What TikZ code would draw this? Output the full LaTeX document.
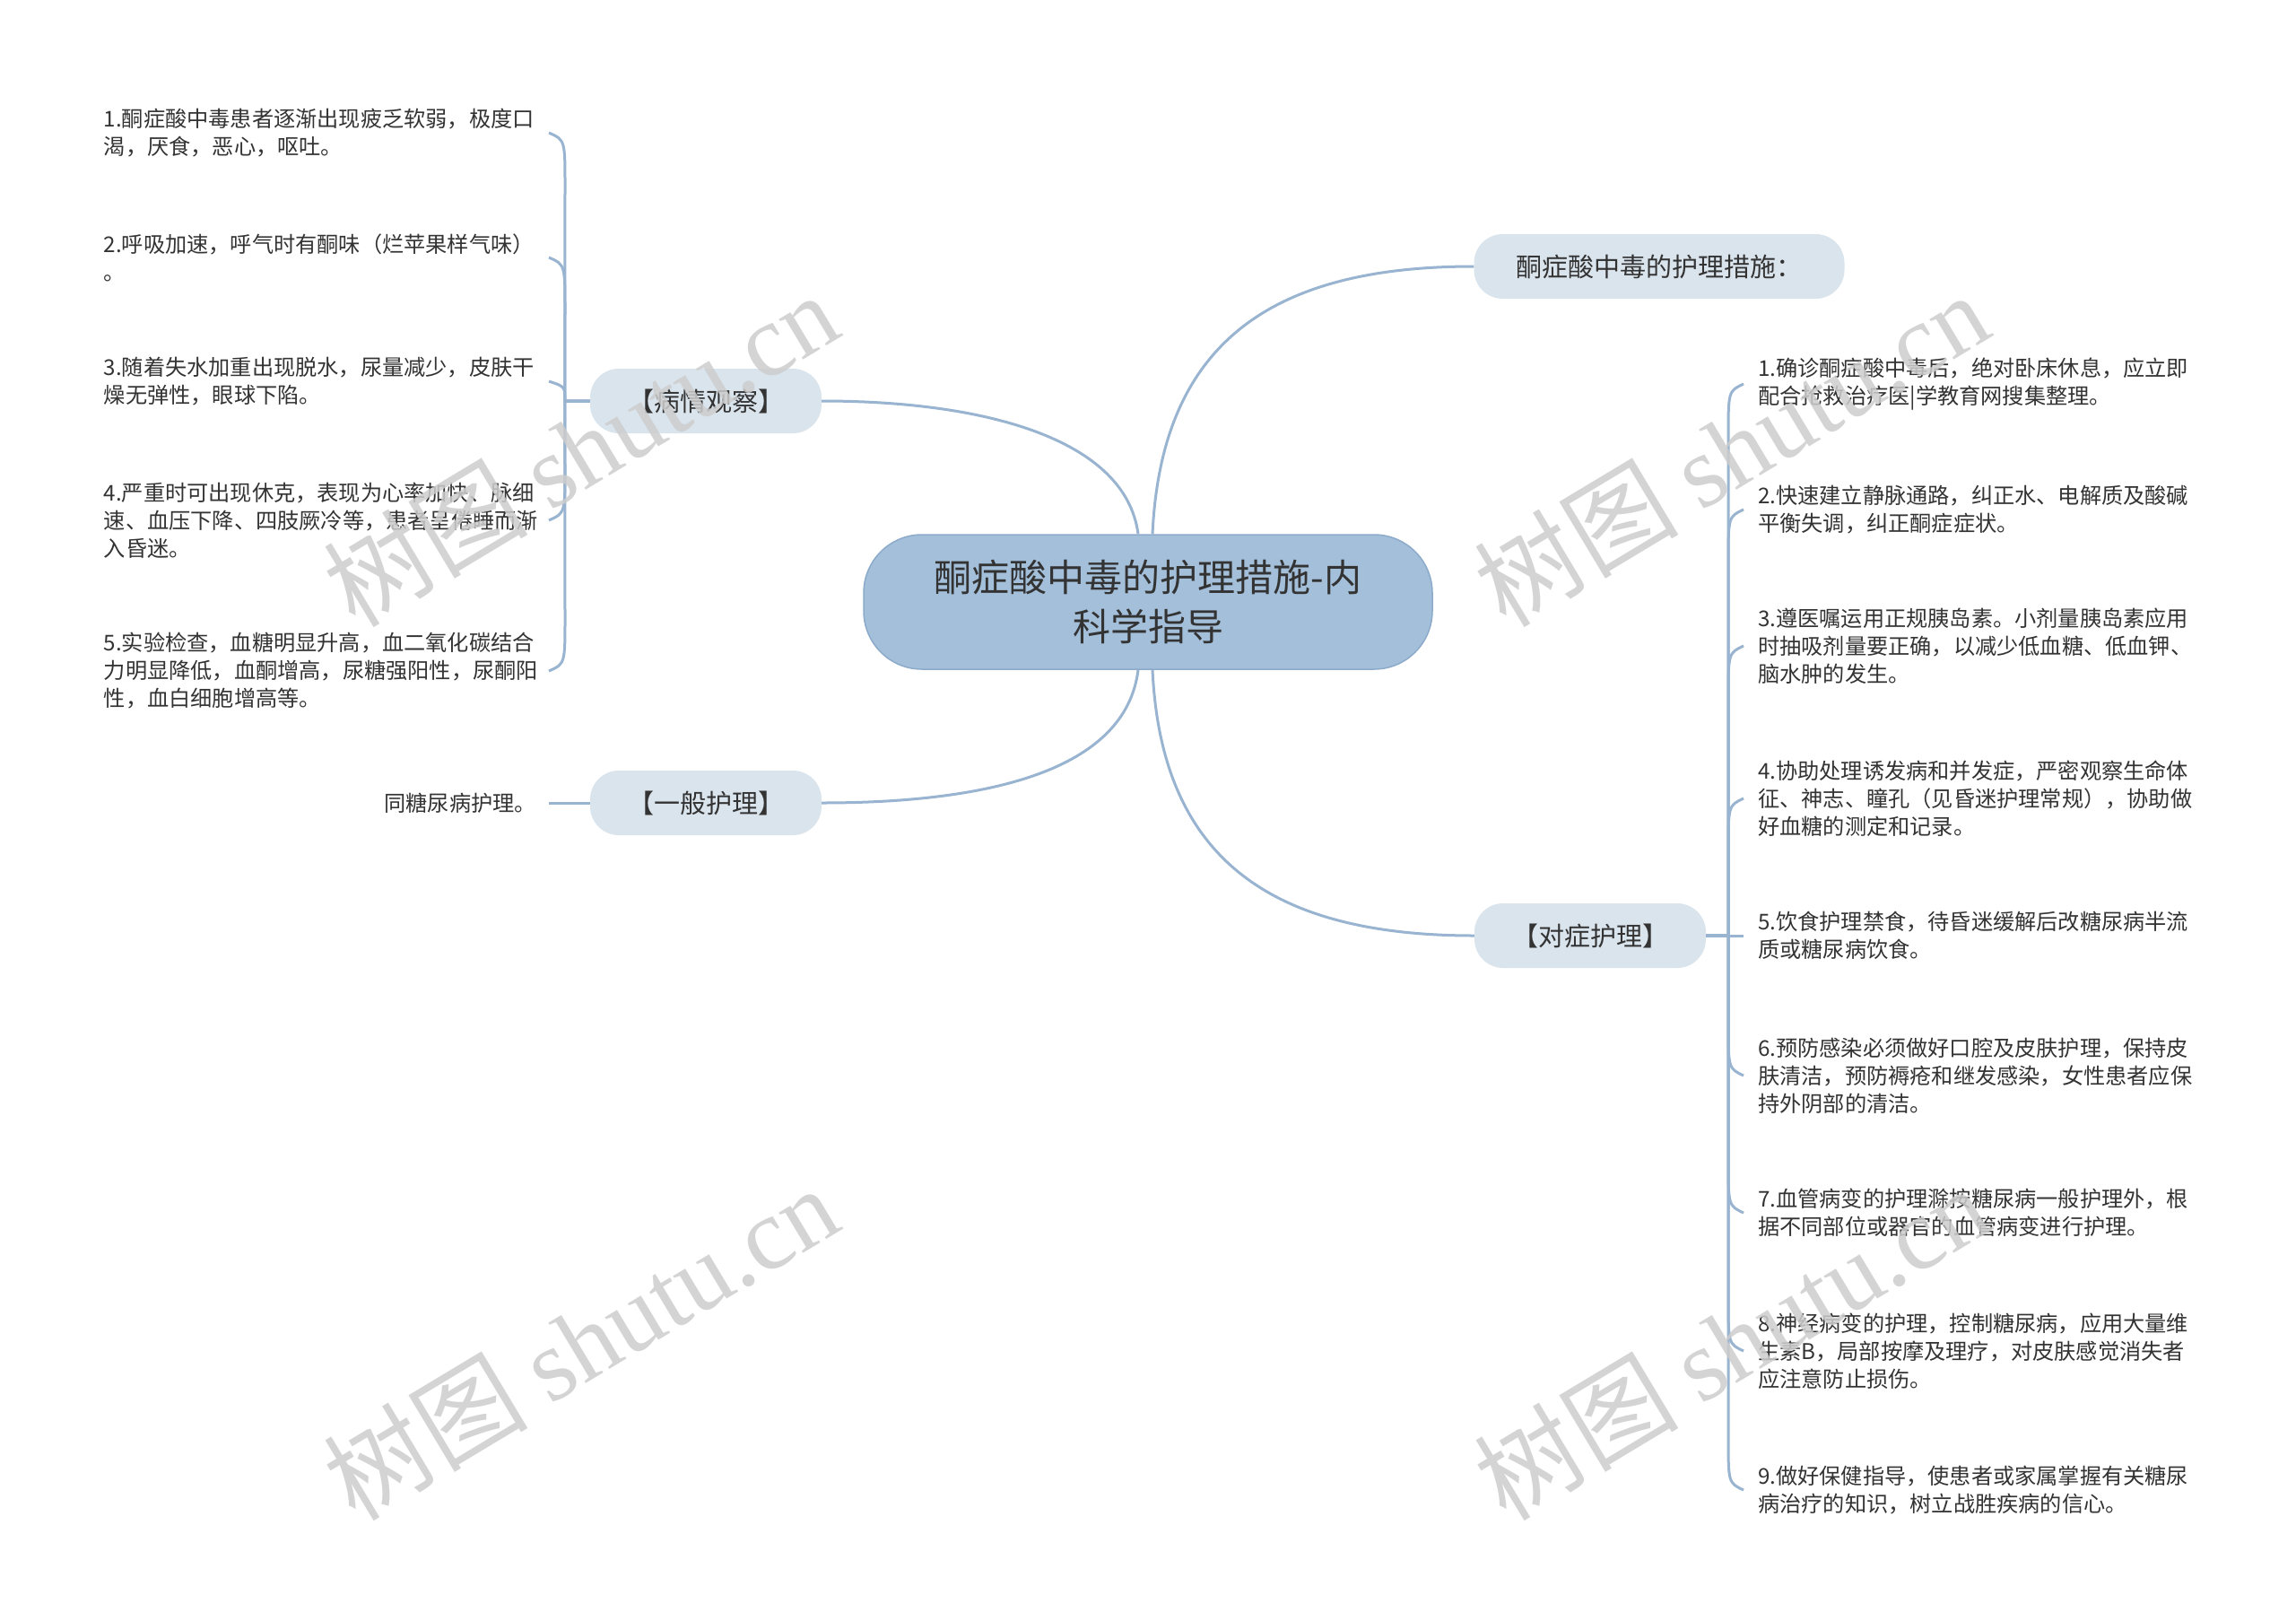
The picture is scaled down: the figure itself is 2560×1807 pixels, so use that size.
\documentclass[tikz,border=0pt]{standalone}
\usepackage{fontspec}
\setmainfont{Noto Sans CJK SC}
\newfontfamily\wmlatin{Liberation Serif}
\definecolor{conncol}{RGB}{152,180,208}
\definecolor{rootfill}{RGB}{163,191,218}
\definecolor{rootdraw}{RGB}{140,170,202}
\definecolor{subfill}{RGB}{218,228,237}
\definecolor{txt}{RGB}{51,51,51}
\definecolor{wmcol}{RGB}{205,205,205}
\begin{document}
\begin{tikzpicture}[x=1pt,y=-1pt,
  conn/.style={draw=conncol, line width=3pt},
  rootbox/.style={fill=rootfill, draw=rootdraw, line width=1.5pt, rounded corners=65pt, minimum width=634pt, minimum height=150pt, align=center, text=txt, font=\fontsize{42pt}{55pt}\selectfont, inner sep=0pt},
  subbox/.style={fill=subfill, rounded corners=32pt, minimum height=72pt, text=txt, font=\fontsize{29pt}{36pt}\selectfont, inner sep=0pt},
  leafL/.style={anchor=east, text width=482pt, align=left, text=txt, font=\fontsize{24.2pt}{31pt}\selectfont, inner sep=0pt},
  leafR/.style={anchor=west, text width=500pt, align=left, text=txt, font=\fontsize{24.2pt}{31pt}\selectfont, inner sep=0pt},
  leafS/.style={anchor=east, text=txt, font=\fontsize{24.2pt}{31pt}\selectfont, inner sep=0pt},
  wm/.style={text=wmcol, text opacity=0.85, rotate=31, inner sep=0pt, font=\fontsize{114pt}{114pt}\selectfont}
]
\fill[white] (0,0) rectangle (2560,1807);
\useasboundingbox (0,0) rectangle (2560,1807);

% main nodes
\node[rootbox] (root) at (1280,671) {酮症酸中毒的护理措施-内\\科学指导};
\node[subbox, minimum width=413pt] (n1) at (1850,297) {酮症酸中毒的护理措施：};
\node[subbox, minimum width=258pt] (bq) at (787,447) {【病情观察】};
\node[subbox, minimum width=258pt] (yb) at (787,895) {【一般护理】};
\node[subbox, minimum width=258pt] (dz) at (1773,1043) {【对症护理】};

% left leaves
\node[leafL] (l1) at (598,148) {1.酮症酸中毒患者逐渐出现疲乏软弱，极度口\\渴，厌食，恶心，呕吐。};
\node[leafL] (l2) at (598,287) {2.呼吸加速，呼气时有酮味（烂苹果样气味）\\。};
\node[leafL] (l3) at (598,425) {3.随着失水加重出现脱水，尿量减少，皮肤干\\燥无弹性，眼球下陷。};
\node[leafL] (l4) at (598,580) {4.严重时可出现休克，表现为心率加快、脉细\\速、血压下降、四肢厥冷等，患者呈倦睡而渐\\入昏迷。};
\node[leafL] (l5) at (598,748) {5.实验检查，血糖明显升高，血二氧化碳结合\\力明显降低，血酮增高，尿糖强阳性，尿酮阳\\性，血白细胞增高等。};
\node[leafS] (t1) at (598,895) {同糖尿病护理。};

% right leaves
\node[leafR] (r1) at (1960,428) {1.确诊酮症酸中毒后，绝对卧床休息，应立即\\配合抢救治疗医|学教育网搜集整理。};
\node[leafR] (r2) at (1960,568) {2.快速建立静脉通路，纠正水、电解质及酸碱\\平衡失调，纠正酮症症状。};
\node[leafR] (r3) at (1960,720) {3.遵医嘱运用正规胰岛素。小剂量胰岛素应用\\时抽吸剂量要正确，以减少低血糖、低血钾、\\脑水肿的发生。};
\node[leafR] (r4) at (1960,890) {4.协助处理诱发病和并发症，严密观察生命体\\征、神志、瞳孔（见昏迷护理常规），协助做\\好血糖的测定和记录。};
\node[leafR] (r5) at (1960,1043) {5.饮食护理禁食，待昏迷缓解后改糖尿病半流\\质或糖尿病饮食。};
\node[leafR] (r6) at (1960,1199) {6.预防感染必须做好口腔及皮肤护理，保持皮\\肤清洁，预防褥疮和继发感染，女性患者应保\\持外阴部的清洁。};
\node[leafR] (r7) at (1960,1352) {7.血管病变的护理滁按糖尿病一般护理外，根\\据不同部位或器官的血管病变进行护理。};
\node[leafR] (r8) at (1960,1506) {8.神经病变的护理，控制糖尿病，应用大量维\\生素B，局部按摩及理疗，对皮肤感觉消失者\\应注意防止损伤。};
\node[leafR] (r9) at (1960,1661) {9.做好保健指导，使患者或家属掌握有关糖尿\\病治疗的知识，树立战胜疾病的信心。};

% main connectors
\draw[conn] ([xshift=-11pt]root.north) .. controls (1255,490) and (1100,447) .. (bq.east);
\draw[conn] ([xshift=5pt]root.north) .. controls (1295,380) and (1420,297) .. (n1.west);
\draw[conn] ([xshift=-11pt]root.south) .. controls (1255,860) and (1100,895) .. (yb.east);
\draw[conn] ([xshift=5pt]root.south) .. controls (1295,960) and (1420,1043) .. (dz.west);

% left bracket
\coordinate (tl) at ([xshift=-28pt]bq.west);
\draw[conn] (bq.west) -- (tl) -- ([shift={(32,60)}]l1.east) .. controls ([shift={(32,8)}]l1.east) .. ([shift={(14,0)}]l1.east);
\draw[conn] (bq.west) -- (tl) -- ([shift={(32,60)}]l2.east) .. controls ([shift={(32,8)}]l2.east) .. ([shift={(14,0)}]l2.east);
\draw[conn] (bq.west) -- (tl) .. controls ([shift={(32,6)}]l3.east) .. ([shift={(14,0)}]l3.east);
\draw[conn] (bq.west) -- (tl) -- ([shift={(32,-60)}]l4.east) .. controls ([shift={(32,-8)}]l4.east) .. ([shift={(14,0)}]l4.east);
\draw[conn] (bq.west) -- (tl) -- ([shift={(32,-60)}]l5.east) .. controls ([shift={(32,-8)}]l5.east) .. ([shift={(14,0)}]l5.east);
\draw[conn] (yb.west) -- ([shift={(14,0)}]t1.east);

% right bracket
\coordinate (tr) at ([xshift=25pt]dz.east);
\draw[conn] (dz.east) -- (tr) -- ([shift={(-33,60)}]r1.west) .. controls ([shift={(-33,8)}]r1.west) .. ([shift={(-16,0)}]r1.west);
\draw[conn] (dz.east) -- (tr) -- ([shift={(-33,60)}]r2.west) .. controls ([shift={(-33,8)}]r2.west) .. ([shift={(-16,0)}]r2.west);
\draw[conn] (dz.east) -- (tr) -- ([shift={(-33,60)}]r3.west) .. controls ([shift={(-33,8)}]r3.west) .. ([shift={(-16,0)}]r3.west);
\draw[conn] (dz.east) -- (tr) -- ([shift={(-33,60)}]r4.west) .. controls ([shift={(-33,8)}]r4.west) .. ([shift={(-16,0)}]r4.west);
\draw[conn] (dz.east) -- ([shift={(-16,0)}]r5.west);
\draw[conn] (dz.east) -- (tr) -- ([shift={(-33,-60)}]r6.west) .. controls ([shift={(-33,-8)}]r6.west) .. ([shift={(-16,0)}]r6.west);
\draw[conn] (dz.east) -- (tr) -- ([shift={(-33,-60)}]r7.west) .. controls ([shift={(-33,-8)}]r7.west) .. ([shift={(-16,0)}]r7.west);
\draw[conn] (dz.east) -- (tr) -- ([shift={(-33,-60)}]r8.west) .. controls ([shift={(-33,-8)}]r8.west) .. ([shift={(-16,0)}]r8.west);
\draw[conn] (dz.east) -- (tr) -- ([shift={(-33,-60)}]r9.west) .. controls ([shift={(-33,-8)}]r9.west) .. ([shift={(-16,0)}]r9.west);

% watermarks
\node[wm] (wm1) at (647,500) {树图 {\wmlatin shutu.cn}};
\node[wm] (wm2) at (1930,500) {树图 {\wmlatin shutu.cn}};
\node[wm] (wm3) at (647,1496) {树图 {\wmlatin shutu.cn}};
\node[wm] (wm4) at (1930,1496) {树图 {\wmlatin shutu.cn}};
\end{tikzpicture}
\end{document}
